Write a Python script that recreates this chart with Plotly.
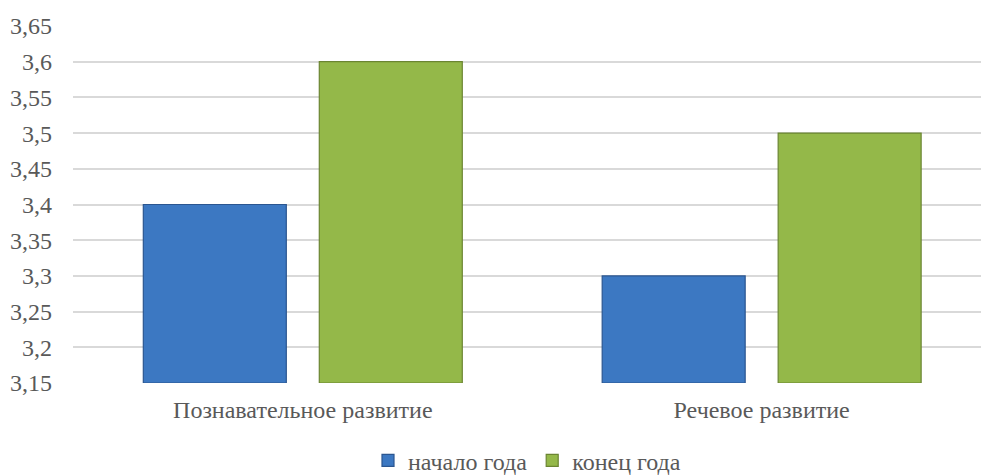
import plotly.graph_objects as go

categories = ["Познавательное развитие", "Речевое развитие"]
series_names = ["начало года", "конец года"]
start_values = [3.4, 3.3]
end_values = [3.6, 3.5]
axis_min = 3.15
tick_values = [3.15, 3.2, 3.25, 3.3, 3.35, 3.4, 3.45, 3.5, 3.55, 3.6, 3.65]
tick_labels = ["3,15", "3,2", "3,25", "3,3", "3,35", "3,4", "3,45", "3,5", "3,55", "3,6", "3,65"]

font_family = "'Liberation Serif', 'Times New Roman', Times, serif"
text_color = "#595959"
fsize = 24

fig = go.Figure()
fig.add_trace(go.Bar(
    x=categories, y=[v - axis_min for v in start_values], base=axis_min,
    name=series_names[0],
    marker=dict(color="#3c78c2", line=dict(color="#2b5690", width=1.2)),
))
fig.add_trace(go.Bar(
    x=categories, y=[v - axis_min for v in end_values], base=axis_min,
    name=series_names[1],
    marker=dict(color="#94b849", line=dict(color="#6b8532", width=1.2)),
))

fig.update_layout(
    width=981, height=475,
    margin=dict(l=73, r=0, t=26, b=91.7, autoexpand=False),
    paper_bgcolor="white", plot_bgcolor="white",
    barmode="group", bargap=0.233, bargroupgap=0.1875,
    font=dict(family=font_family, size=fsize, color=text_color),
    showlegend=True,
    legend=dict(orientation="h", x=0.5, xanchor="center", y=-0.218, yanchor="middle",
                font=dict(family=font_family, size=fsize, color=text_color),
                itemwidth=30, tracegroupgap=0),
)
fig.update_xaxes(
    range=[-0.5008, 1.478], showgrid=False, zeroline=False, showline=False,
    ticks="", automargin=False, ticklabelstandoff=10,
    tickfont=dict(family=font_family, size=fsize, color=text_color),
)
fig.update_yaxes(
    range=[3.15, 3.65], tickvals=tick_values, ticktext=tick_labels,
    showgrid=True, gridcolor="#d9d9d9", gridwidth=1.5, zeroline=False,
    showline=False, ticks="", ticklabelstandoff=20, automargin=False,
    tickfont=dict(family=font_family, size=fsize, color=text_color),
)
fig.write_html(
    "out.html",
    config={"displayModeBar": False},
    post_script="document.body.style.margin='0px';document.body.style.overflow='hidden';",
)
